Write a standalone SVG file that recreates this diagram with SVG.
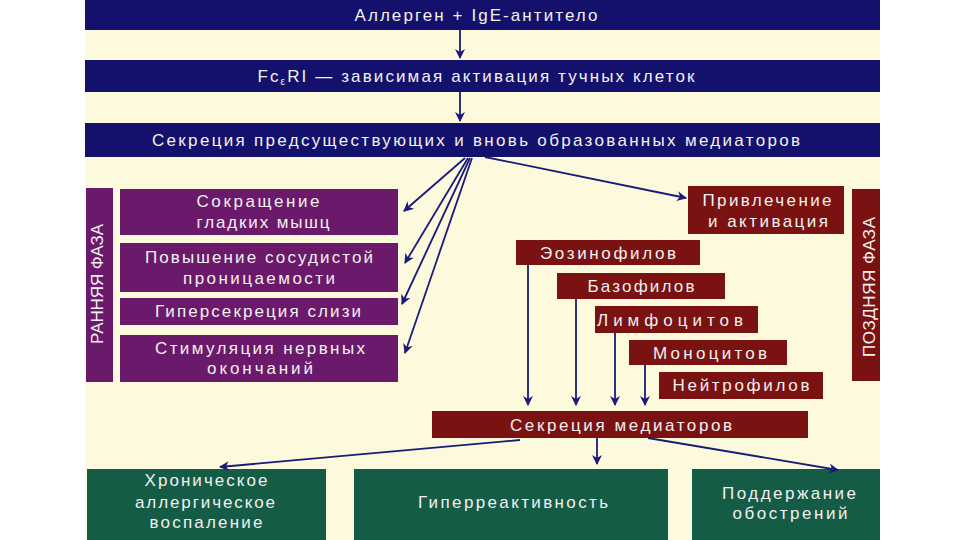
<svg xmlns="http://www.w3.org/2000/svg" width="960" height="540" viewBox="0 0 960 540">
<defs>
<marker id="ah" viewBox="0 0 10 10" refX="9" refY="5" markerWidth="10" markerHeight="10" orient="auto" markerUnits="userSpaceOnUse">
<path d="M0,0 L10,5 L0,10 L3,5 z" fill="#1a1a7a"/>
</marker>
<style>
.navy{fill:#13116b}
.purple{fill:#6b1a6b}
.red{fill:#7a1212}
.green{fill:#145c46}
text{font-family:"Liberation Sans",Arial,sans-serif;font-size:17px;fill:#f2f0f0;text-anchor:middle;dominant-baseline:central}
.ln{stroke:#1a1a7a;stroke-width:1.8;fill:none;marker-end:url(#ah)}
</style>
</defs>
<rect x="0" y="0" width="960" height="540" fill="#ffffff"/>
<rect x="85" y="0" width="795" height="540" fill="#fdf9dc"/>

<g id="top1"><rect class="navy" x="85" y="0" width="795" height="30"/><text x="476" y="15" textLength="243" lengthAdjust="spacing">Аллерген + IgE-антитело</text></g>
<g id="top2"><rect class="navy" x="85" y="60" width="795" height="32"/><text x="476" y="76" textLength="437" lengthAdjust="spacing">Fc<tspan font-size="10" dy="5">ε</tspan><tspan dy="-5">RI — зависимая активация тучных клеток</tspan></text></g>
<g id="top3"><rect class="navy" x="85" y="123" width="795" height="34"/><text x="476" y="140" textLength="648" lengthAdjust="spacing">Секреция предсуществующих и вновь образованных медиаторов</text></g>

<g id="early"><rect class="purple" x="86" y="188" width="27" height="194"/><text transform="translate(97,284) rotate(-90)" textLength="120" lengthAdjust="spacing">РАННЯЯ ФАЗА</text></g>
<g id="b1"><rect class="purple" x="120" y="189" width="278" height="46"/><text x="258" y="201" textLength="123" lengthAdjust="spacing">Сокращение</text><text x="263" y="222" textLength="133" lengthAdjust="spacing">гладких мышц</text></g>
<g id="b2"><rect class="purple" x="120" y="243" width="278" height="49"/><text x="259" y="257" textLength="228" lengthAdjust="spacing">Повышение сосудистой</text><text x="259" y="278" textLength="152" lengthAdjust="spacing">проницаемости</text></g>
<g id="b3"><rect class="purple" x="120" y="298" width="278" height="27"/><text x="258" y="311" textLength="206" lengthAdjust="spacing">Гиперсекреция слизи</text></g>
<g id="b4"><rect class="purple" x="120" y="335" width="278" height="47"/><text x="260" y="348" textLength="210" lengthAdjust="spacing">Стимуляция нервных</text><text x="260" y="368" textLength="106" lengthAdjust="spacing">окончаний</text></g>

<g id="attract"><rect class="red" x="688" y="186" width="156" height="48"/><text x="767" y="200" textLength="129" lengthAdjust="spacing">Привлечение</text><text x="768" y="221" textLength="120" lengthAdjust="spacing">и активация</text></g>
<g id="late"><rect class="red" x="852" y="189" width="28" height="192"/><text transform="translate(869,287) rotate(-90)" textLength="140" lengthAdjust="spacing">ПОЗДНЯЯ ФАЗА</text></g>
<g id="eos"><rect class="red" x="516" y="240" width="184" height="25"/><text x="608" y="253" textLength="136" lengthAdjust="spacing">Эозинофилов</text></g>
<g id="baso"><rect class="red" x="557" y="273" width="168" height="26"/><text x="641" y="286" textLength="107" lengthAdjust="spacing">Базофилов</text></g>
<g id="lymph"><rect class="red" x="595" y="306" width="163" height="27"/><text x="670" y="320" textLength="146" lengthAdjust="spacing">Лимфоцитов</text></g>
<g id="mono"><rect class="red" x="629" y="340" width="158" height="25"/><text x="710" y="353" textLength="114" lengthAdjust="spacing">Моноцитов</text></g>
<g id="neut"><rect class="red" x="659" y="372" width="164" height="27"/><text x="741" y="385" textLength="137" lengthAdjust="spacing">Нейтрофилов</text></g>
<g id="secr"><rect class="red" x="432" y="411" width="376" height="27"/><text x="621" y="425" textLength="222" lengthAdjust="spacing">Секреция медиаторов</text></g>

<g id="g1"><rect class="green" x="87" y="469" width="239" height="71"/><text x="206" y="480" textLength="123" lengthAdjust="spacing">Хроническое</text><text x="205" y="502" textLength="140" lengthAdjust="spacing">аллергическое</text><text x="206" y="522" textLength="113" lengthAdjust="spacing">воспаление</text></g>
<g id="g2"><rect class="green" x="354" y="469" width="314" height="71"/><text x="513" y="502" textLength="190" lengthAdjust="spacing">Гиперреактивность</text></g>
<g id="g3"><rect class="green" x="692" y="469" width="188" height="71"/><text x="789" y="493" textLength="134" lengthAdjust="spacing">Поддержание</text><text x="790" y="513" textLength="115" lengthAdjust="spacing">обострений</text></g>

<g id="connectors">
<line class="ln" x1="460" y1="30" x2="460" y2="58"/>
<line class="ln" x1="460" y1="92" x2="460" y2="121"/>
<line class="ln" x1="465" y1="158" x2="404" y2="211"/>
<line class="ln" x1="468" y1="158" x2="405" y2="263"/>
<line class="ln" x1="470" y1="158" x2="402" y2="304"/>
<line class="ln" x1="472" y1="158" x2="405" y2="353"/>
<line class="ln" x1="485" y1="157" x2="686" y2="198"/>
<line class="ln" x1="528" y1="265" x2="528" y2="405"/>
<line class="ln" x1="576" y1="299" x2="576" y2="405"/>
<line class="ln" x1="615" y1="333" x2="615" y2="405"/>
<line class="ln" x1="645" y1="365" x2="645" y2="405"/>
<line class="ln" x1="520" y1="440" x2="220" y2="467"/>
<line class="ln" x1="597" y1="438" x2="597" y2="464"/>
<line class="ln" x1="648" y1="438" x2="838" y2="470"/>
</g>
</svg>
